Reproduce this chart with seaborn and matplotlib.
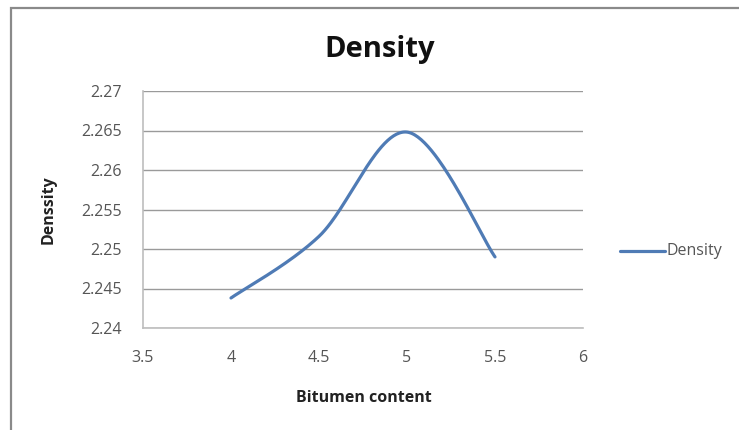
import numpy as np
import pandas as pd
import matplotlib
matplotlib.use("Agg")
import matplotlib.pyplot as plt
import seaborn as sns
from matplotlib.patches import Rectangle

bitumen_content = [4.0, 4.5, 5.0, 5.5]
density = [2.2438, 2.2516, 2.2648, 2.2490]
x_ticks = [3.5, 4, 4.5, 5, 5.5, 6]
y_ticks = [2.24, 2.245, 2.25, 2.255, 2.26, 2.265, 2.27]
x_tick_labels = ["3.5", "4", "4.5", "5", "5.5", "6"]
y_tick_labels = ["2.24", "2.245", "2.25", "2.255", "2.26", "2.265", "2.27"]


def smooth_curve(xs, ys, n=60):
    """Bezier smoothing through every point (spreadsheet-style smoothed line)."""
    xs = np.asarray(xs, float)
    ys = np.asarray(ys, float)
    px = np.concatenate([[xs[0]], xs, [xs[-1]]])
    py = np.concatenate([[ys[0]], ys, [ys[-1]]])
    out_x, out_y = [], []
    t = np.linspace(0, 1, n)
    for i in range(1, len(px) - 2):
        p0 = np.array([px[i], py[i]])
        p3 = np.array([px[i + 1], py[i + 1]])
        p1 = p0 + (np.array([px[i + 1], py[i + 1]]) - np.array([px[i - 1], py[i - 1]])) / 6
        p2 = p3 - (np.array([px[i + 2], py[i + 2]]) - np.array([px[i], py[i]])) / 6
        b = ((1 - t) ** 3)[:, None] * p0 + (3 * (1 - t) ** 2 * t)[:, None] * p1 \
            + (3 * (1 - t) * t ** 2)[:, None] * p2 + (t ** 3)[:, None] * p3
        out_x.extend(b[:, 0])
        out_y.extend(b[:, 1])
    return np.array(out_x), np.array(out_y)


sx, sy = smooth_curve(bitumen_content, density)
curve = pd.DataFrame({"Bitumen content": sx, "Density": sy, "series": "Density"})

sns.set_theme(style="white")
plt.rcParams["font.family"] = ["Open Sans", "DejaVu Sans"]

W, H = 739, 430
fig = plt.figure(figsize=(W / 100, H / 100), dpi=100)
ax = fig.add_axes([143 / W, 1 - 328 / H, (583 - 143) / W, (328 - 91) / H])

line_color = "#4f7bb5"
sns.lineplot(data=curve, x="Bitumen content", y="Density", hue="series",
             palette=[line_color], sort=False, estimator=None, linewidth=2.3,
             ax=ax, legend=False)

ax.set_xlim(3.5, 6)
ax.set_ylim(2.24, 2.27)
ax.set_xticks(x_ticks)
ax.set_xticklabels(x_tick_labels)
ax.set_yticks(y_ticks)
ax.set_yticklabels(y_tick_labels)
ax.grid(axis="y", color="#9a9a9a", linewidth=1.0)
ax.set_axisbelow(True)

for side in ("top", "right"):
    ax.spines[side].set_visible(False)
for side in ("left", "bottom"):
    ax.spines[side].set_color("#bdbdbd")
    ax.spines[side].set_linewidth(1.2)

ax.tick_params(axis="both", which="both", direction="out", length=5,
               color="#bdbdbd", labelcolor="#555555", labelsize=11.5)
ax.tick_params(axis="y", pad=10)
ax.tick_params(axis="x", pad=11)

ax.set_xlabel("Bitumen content", fontsize=11.5, fontweight="bold", color="#222222")
ax.set_ylabel("Denssity", fontsize=11.5, fontweight="bold", color="#222222")
ax.xaxis.set_label_coords((364 - 143) / 440, (328 - 398) / 237)
ax.yaxis.set_label_coords((49 - 143) / 440, (328 - 210) / 237)
ax.xaxis.label.set_va("center")
ax.yaxis.label.set_va("center")

fig.text(380 / W, 1 - 57 / H, "Density", ha="center", va="baseline",
         fontsize=21, fontweight="bold", color="#111111")

# legend entry on the right
fig.add_artist(plt.Line2D([620 / W, 665 / W], [1 - 251 / H, 1 - 251 / H],
                          color=line_color, linewidth=2.3))
fig.text(666 / W, 1 - 251 / H, "Density", ha="left", va="center",
         fontsize=11.5, color="#555555")

# chart frame
fig.add_artist(Rectangle((11 / W, -0.05), 1.0, 1 - 8 / H + 0.05,
                         transform=fig.transFigure, fill=False,
                         edgecolor="#8a8a8a", linewidth=1.6))

fig.savefig("out.png", dpi=100)
